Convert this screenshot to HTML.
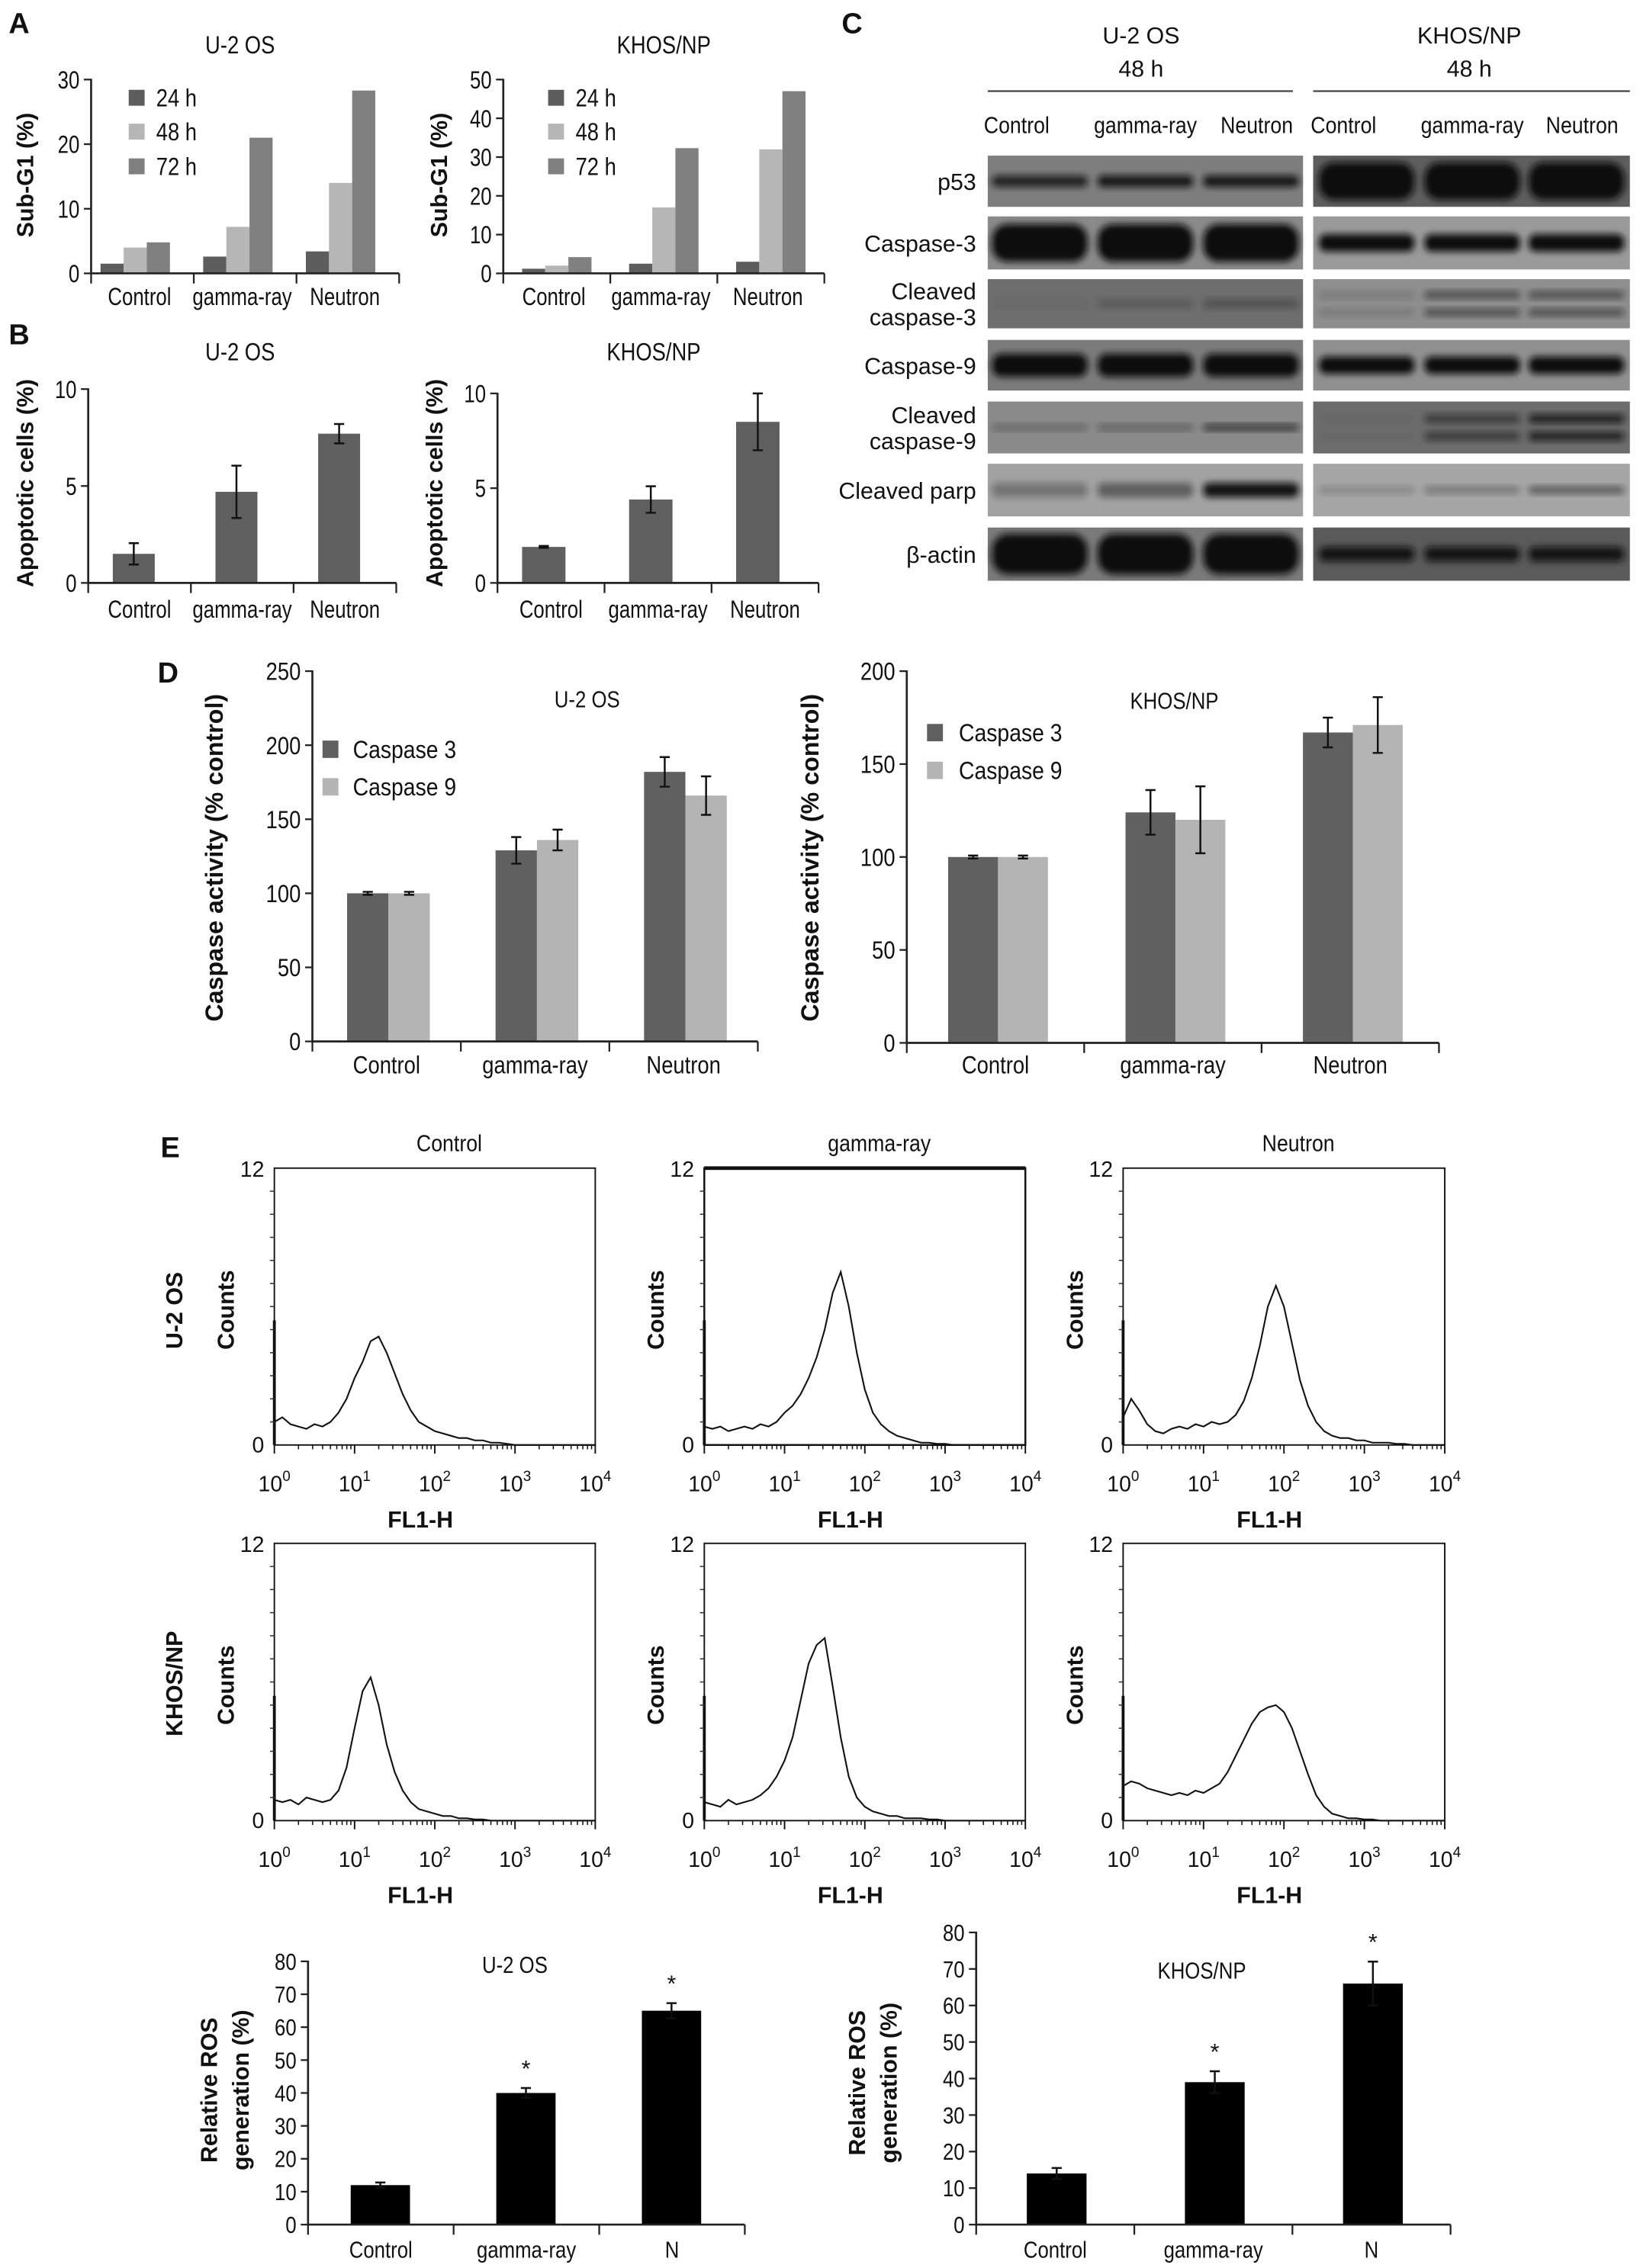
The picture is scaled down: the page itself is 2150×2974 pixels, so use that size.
<!DOCTYPE html>
<html><head><meta charset="utf-8"><style>
html,body{margin:0;padding:0;background:#fff;}
svg{display:block;font-family:"Liberation Sans",Arial,sans-serif;}
</style></head><body>
<svg id="fig" width="2150" height="2974" viewBox="0 0 1134 1568" preserveAspectRatio="none" xmlns="http://www.w3.org/2000/svg">
<defs><filter id="blur" x="-20%" y="-50%" width="140%" height="200%"><feGaussianBlur stdDeviation="2.2"/></filter></defs>
</svg>
<script>
// ---------- DATA ----------
const catsABD = ["Control","gamma-ray","Neutron"];
const catsROS = ["Control","gamma-ray","N"];
const subG1U2_24 = [1.5,2.6,3.4];
const subG1U2_48 = [4.0,7.2,14.0];
const subG1U2_72 = [4.8,21.0,28.3];
const subG1KH_24 = [1.2,2.5,3.0];
const subG1KH_48 = [2.0,17.0,32.0];
const subG1KH_72 = [4.2,32.3,47.0];
const apoU2 = [1.5,4.7,7.7];
const apoU2Err = [0.55,1.35,0.5];
const apoKH = [1.9,4.4,8.5];
const apoKHErr = [0.05,0.7,1.5];
const casp3U2 = [100,129,182];
const casp3U2Err = [1,9,10];
const casp9U2 = [100,136,166];
const casp9U2Err = [1,7,13];
const casp3KH = [100,124,167];
const casp3KHErr = [0.8,12,8];
const casp9KH = [100,120,171];
const casp9KHErr = [0.8,18,15];
const rosU2 = [12,40,65];
const rosU2Err = [0.8,1.5,2.3];
const rosKH = [14,39,66];
const rosKHErr = [1.5,3,6];
const ticksSubU2 = [0,10,20,30];
const ticksSubKH = [0,10,20,30,40,50];
const ticksApo = [0,5,10];
const ticksCaspU2 = [0,50,100,150,200,250];
const ticksCaspKH = [0,50,100,150,200];
const ticksROS = [0,10,20,30,40,50,60,70,80];
// histogram counts sampled every 0.1 decade from 10^0 to 10^4
const histStep = 0.1;
const histU2Ctrl = [1.0,1.2,0.9,0.8,0.7,0.9,0.8,1.0,1.4,2.0,2.9,3.6,4.5,4.7,4.0,3.1,2.2,1.5,1.0,0.8,0.6,0.5,0.4,0.3,0.3,0.2,0.2,0.1,0.1,0.05,0,0,0,0,0,0,0,0,0,0,0];
const histU2Gam = [0.8,0.7,0.8,0.6,0.7,0.8,0.7,0.9,0.8,1.0,1.4,1.7,2.2,2.9,3.8,5.0,6.6,7.5,6.0,4.0,2.4,1.4,0.9,0.6,0.4,0.3,0.2,0.1,0.1,0.05,0.05,0,0,0,0,0,0,0,0,0,0];
const histU2Neu = [1.2,2.0,1.5,0.9,0.6,0.5,0.7,0.8,0.7,0.9,0.8,1.0,0.9,1.0,1.3,1.9,2.9,4.3,6.0,6.9,6.0,4.4,2.8,1.7,1.0,0.6,0.4,0.3,0.3,0.2,0.2,0.1,0.1,0.1,0.05,0.05,0,0,0,0,0];
const histKHCtrl = [0.9,0.8,0.9,0.7,1.0,0.9,0.8,0.9,1.3,2.3,4.0,5.6,6.2,5.0,3.3,2.1,1.3,0.8,0.5,0.4,0.3,0.2,0.2,0.1,0.1,0.05,0.05,0,0,0,0,0,0,0,0,0,0,0,0,0,0];
const histKHGam = [0.8,0.7,0.6,0.9,0.7,0.8,0.9,1.1,1.4,1.9,2.6,3.6,5.2,6.8,7.6,7.9,5.8,3.6,1.9,1.0,0.6,0.4,0.3,0.2,0.2,0.1,0.1,0.1,0.05,0.05,0,0,0,0,0,0,0,0,0,0,0];
const histKHNeu = [1.5,1.7,1.6,1.4,1.3,1.2,1.1,1.2,1.1,1.3,1.2,1.4,1.6,2.1,2.8,3.5,4.2,4.7,4.9,5.0,4.7,4.0,3.0,2.0,1.1,0.6,0.3,0.2,0.1,0.1,0.05,0.05,0,0,0,0,0,0,0,0,0];
const histTickLabels = ["0","1","2","3","4"];

// ---------- HELPERS ----------
const NS = "http://www.w3.org/2000/svg";
const svg = document.getElementById("fig");
function mk(tag, attrs, parent) {
  const e = document.createElementNS(NS, tag);
  for (const k in attrs) e.setAttribute(k, attrs[k]);
  (parent || svg).appendChild(e);
  return e;
}
function txt(s, x, y, size, opts, parent) {
  opts = opts || {};
  const e = mk("text", {x: x, y: y, "font-size": size, "text-anchor": opts.anchor || "middle", "font-weight": opts.bold ? "bold" : "normal", fill: "#111"}, parent);
  if (opts.rot) e.setAttribute("transform", "rotate(-90 " + x + " " + y + ")");
  e.textContent = s;
  if (opts.cond) {
    const L = e.getComputedTextLength();
    if (L > 0) { e.setAttribute("textLength", (L * opts.cond).toFixed(1)); e.setAttribute("lengthAdjust", "spacingAndGlyphs"); }
  }
  return e;
}

function barChart(p) {
  const g = mk("g", {});
  
  
  const ys = v => p.yB - (v / p.max) * (p.yB - p.yT);
  const gw = (p.x1 - p.x0) / p.cats.length;
  p.series.forEach((vals, s) => {
    vals.forEach((v, i) => {
      const x = p.x0 + i * gw + p.off + s * p.bw;
      const r = mk("rect", {x: x, y: ys(v), width: p.bw, height: p.yB - ys(v), fill: p.colors[s]}, g);
      
      
      if (p.errs && p.errs[s]) {
        const e = p.errs[s][i], cx = x + p.bw / 2;
        const eb = mk("path", {d: "M" + cx + " " + ys(v + e) + "V" + ys(v - e) + "M" + (cx - 3.5) + " " + ys(v + e) + "h7M" + (cx - 3.5) + " " + ys(v - e) + "h7", stroke: "#111", "stroke-width": 1.3, fill: "none"}, g);
        
        
        if (p.stars && p.stars[i]) {
          const st = txt("*", cx, ys(v + e) - 8, 16, {}, g);
          
          
        }
      }
    });
  });
  const ax = mk("path", {d: "M" + p.x0 + " " + (p.yT - 0.5) + "V" + p.yB + "H" + p.x1, stroke: "#222", "stroke-width": 1.4, fill: "none"}, g);
  
  
  p.ticks.forEach(t => {
    mk("line", {x1: p.x0 - 5, x2: p.x0, y1: ys(t), y2: ys(t), stroke: "#222", "stroke-width": 1.2}, g);
    const tl = txt(String(t), p.x0 - 8, ys(t) + p.fs * 0.36, p.fs, {anchor: "end", cond: p.cond}, g);
    
    
  });
  for (let i = 0; i <= p.cats.length; i++) {
    const x = p.x0 + i * gw;
    mk("line", {x1: x, x2: x, y1: p.yB, y2: p.yB + 7, stroke: "#222", "stroke-width": 1.2}, g);
  }
  p.cats.forEach((c, i) => {
    const cl = txt(c, p.x0 + (i + 0.5) * gw + (p.catShift || 0), p.catY, p.fs, {cond: p.cond}, g);
    
    
  });
  return g;
}

// ---------- PANEL LETTERS ----------
[["A",6,23],["B",6,238],["C",582,23],["D",109,472],["E",111,800]].forEach(a => {
  const t = txt(a[0], a[1], a[2], 20, {anchor: "start", bold: true});
  
  
});

// ---------- PANEL A ----------
const colA = ["#5d5d5d", "#b6b6b6", "#808080"];
barChart({name:"subg1-u2os-chart", x0:63, x1:276, yT:55, yB:189, max:30, ticks:ticksSubU2, cats:catsABD, series:[subG1U2_24,subG1U2_48,subG1U2_72], seriesNames:["24h","48h","72h"], colors:colA, bw:16, off:6.5, fs:17, catY:211, catShift:-2, cond:0.8});
barChart({name:"subg1-khos-chart", x0:348, x1:570, yT:55, yB:189, max:50, ticks:ticksSubKH, cats:catsABD, series:[subG1KH_24,subG1KH_48,subG1KH_72], seriesNames:["24h","48h","72h"], colors:colA, bw:16, off:13, fs:17, catY:211, catShift:-2, cond:0.8});
[[89,108],[379,398]].forEach(L => {
  ["24 h","48 h","72 h"].forEach((s, i) => {
    const cy = [67.6, 91, 115][i];
    const sq = mk("rect", {x: L[0], y: cy - 5.5, width: 11, height: 11, fill: colA[i]});
    
    
    const lt = txt(s, L[1], cy + 6, 17, {anchor: "start", cond: 0.85});
    
    
  });
});
let t;
t = txt("U-2 OS", 166, 37, 17, {cond:0.85});  
t = txt("KHOS/NP", 459, 37, 17, {cond:0.85});  
t = txt("Sub-G1 (%)", 23, 121, 16, {bold:true, rot:true});  
t = txt("Sub-G1 (%)", 309, 121, 16, {bold:true, rot:true});  

// ---------- PANEL B ----------
barChart({name:"apoptosis-u2os-chart", x0:61, x1:274, yT:269, yB:403, max:10, ticks:ticksApo, cats:catsABD, series:[apoU2], errs:[apoU2Err], seriesNames:["apoptotic"], colors:["#5f5f5f"], bw:29, off:17, fs:17, catY:427, cond:0.8});
barChart({name:"apoptosis-khos-chart", x0:344, x1:566, yT:272, yB:403, max:10, ticks:ticksApo, cats:catsABD, series:[apoKH], errs:[apoKHErr], seriesNames:["apoptotic"], colors:["#5f5f5f"], bw:30, off:17, fs:17, catY:427, cond:0.8});
t = txt("U-2 OS", 166, 249, 17, {cond:0.85});  
t = txt("KHOS/NP", 452, 249, 17, {cond:0.85});  
t = txt("Apoptotic cells (%)", 23, 334, 16, {bold:true, rot:true});  
t = txt("Apoptotic cells (%)", 306, 334, 16, {bold:true, rot:true});  

// ---------- PANEL C (western blots) ----------
const blotRows = ["p53","Caspase-3","Cleaved|caspase-3","Caspase-9","Cleaved|caspase-9","Cleaved parp","β-actin"];
const blotY = [[107.6,143],[149.6,186.3],[193,227],[235,270],[277.6,313.5],[320.6,357],[364.7,401.5]];
const blotBgL = ["#7e7e7e","#8a8a8a","#6e6e6e","#7b7b7b","#8a8a8a","#a2a2a2","#7a7a7a"];
const blotBgR = ["#5e5e5e","#9a9a9a","#8e8e8e","#909090","#6c6c6c","#a6a6a6","#5a5a5a"];
const bandHL = [8,26,6,16,4,10,28];
const bandHR = [26,12,5,12,6,5,10];
const bandIL = [[0.8,0.9,0.9],[1,1,1],[0.05,0.2,0.3],[1,1,1],[0.3,0.35,0.7],[0.3,0.45,0.95],[1,1,1]];
const bandIR = [[1,1,1],[1,1,1],[0.15,0.5,0.5],[1,1,1],[0.05,0.5,0.8],[0.2,0.3,0.5],[0.9,0.9,0.9]];
const laneL = [719,792,865], laneR = [945,1018,1090];
blotRows.forEach((lab, r) => {
  const [y0, y1] = blotY[r];
  [[683,901,blotBgL,bandHL,bandIL,laneL,"left"],[908,1127,blotBgR,bandHR,bandIR,laneR,"right"]].forEach(B => {
    const bg = mk("rect", {x: B[0], y: y0, width: B[1] - B[0], height: y1 - y0, fill: B[2][r]});
    
    
    const cy = (y0 + y1) / 2;
    B[5].forEach((lx, i) => {
      const inten = B[4][r][i];
      const isDouble = (r === 2 || r === 4) && B[6] === "right";
      const offs = isDouble ? [-6, 6] : [0];
      offs.forEach(o => {
        const band = mk("rect", {x: lx - 33, y: cy + o - B[3][r] / 2, width: 66, height: B[3][r], rx: B[3][r] / 2.5, fill: "#111", opacity: inten, filter: "url(#blur)"});
        
        
      });
    });
  });
  const parts = lab.split("|");
  const cy = (y0 + y1) / 2;
  parts.forEach((pt, k) => {
    const yy = cy + 6 + (parts.length === 2 ? (k === 0 ? -9 : 9) : 0);
    const rl = txt(pt, 675, yy, 16, {anchor: "end"});
    
    
  });
});
[["U-2 OS",789,683,894,laneL],["KHOS/NP",1016,908,1127,laneR]].forEach(H => {
  let h = txt(H[0], H[1], 30, 16);  
  h = txt("48 h", H[1], 53, 16);  
  const ln = mk("line", {x1: H[2], x2: H[3], y1: 63, y2: 63, stroke: "#444", "stroke-width": 1.2});
  
  
  catsABD.forEach((c, i) => {
    const l = txt(c, H[4][i] - (i === 0 ? 16 : 0) + (i === 2 ? 4 : 0), 92, 16, {cond: 0.88});
    
    
  });
});

// ---------- PANEL D ----------
const colD = ["#606060", "#b4b4b4"];
barChart({name:"caspase-u2os-chart", x0:216, x1:524, yT:464, yB:720, max:250, ticks:ticksCaspU2, cats:catsABD, series:[casp3U2,casp9U2], errs:[casp3U2Err,casp9U2Err], seriesNames:["caspase3","caspase9"], colors:colD, bw:28.6, off:24, fs:17, catY:742, cond:0.85});
barChart({name:"caspase-khos-chart", x0:627, x1:995, yT:464, yB:721, max:200, ticks:ticksCaspKH, cats:catsABD, series:[casp3KH,casp9KH], errs:[casp3KHErr,casp9KHErr], seriesNames:["caspase3","caspase9"], colors:colD, bw:34.5, off:28.6, fs:17, catY:742, cond:0.85});
[[223,244,518,544],[641,663,506.5,532.6]].forEach(L => {
  ["Caspase 3","Caspase 9"].forEach((s, i) => {
    const cy = L[2 + i];
    const sq = mk("rect", {x: L[0], y: cy - 6, width: 11, height: 12, fill: colD[i]});
    
    
    const lt = txt(s, L[1], cy + 6, 17, {anchor: "start", cond: 0.88});
    
    
  });
});
t = txt("U-2 OS", 406, 489, 16, {cond:0.85});  
t = txt("KHOS/NP", 812, 490, 16, {cond:0.85});  
t = txt("Caspase activity (% control)", 154, 593, 17, {bold:true, rot:true});  
t = txt("Caspase activity (% control)", 566, 593, 17, {bold:true, rot:true});  

// ---------- PANEL E histograms ----------
const histCols = [[189.7,411.6],[487,709],[776.6,999]];
const histRows = [[807.6,999],[1067,1258.7]];
const histData = [[histU2Ctrl,histU2Gam,histU2Neu],[histKHCtrl,histKHGam,histKHNeu]];
const colTitles = ["Control","gamma-ray","Neutron"];
histRows.forEach((R, ri) => {
  histCols.forEach((C, ci) => {
    const g = mk("g", {});
    
    
    const [x0, x1] = C, [yT, yB] = R;
    const xs = d => x0 + d / 4 * (x1 - x0);
    const ys = c => yB - c / 12 * (yB - yT);
    mk("rect", {x: x0, y: yT, width: x1 - x0, height: yB - yT, fill: "none", stroke: "#111", "stroke-width": (ri === 0 && ci === 1) ? 1.3 : 1}, g);
    if (ri === 0 && ci === 1) mk("line", {x1: x0, x2: x1, y1: yT, y2: yT, stroke: "#111", "stroke-width": 2.5}, g);
    mk("line", {x1: x0, x2: x0, y1: yB - 0.45 * (yB - yT), y2: yB, stroke: "#111", "stroke-width": 2}, g);
    for (let k = 1; k < 12; k++) mk("line", {x1: x0 - 3, x2: x0 + 0, y1: ys(k), y2: ys(k), stroke: "#333", "stroke-width": 0.8}, g);
    for (let d = 0; d < 4; d++) {
      for (let m = 2; m <= 9; m++) {
        const xx = xs(d + Math.log10(m));
        mk("line", {x1: xx, x2: xx, y1: yB, y2: yB + 3, stroke: "#111", "stroke-width": 0.8}, g);
      }
    }
    histTickLabels.forEach((lab, d) => {
      mk("line", {x1: xs(d), x2: xs(d), y1: yB, y2: yB + 6, stroke: "#111", "stroke-width": 1}, g);
      const tl = mk("text", {x: xs(d), y: yB + 32, "font-size": 15, "text-anchor": "middle", fill: "#111"}, g);
      
      
      tl.textContent = "10";
      const sp = mk("tspan", {dy: -7, "font-size": 10}, tl);
      sp.textContent = lab;
    });
    let l = txt("12", x0 - 7, yT + 6, 15, {anchor: "end"}, g);  
    l = txt("0", x0 - 7, yB + 5, 15, {anchor: "end"}, g);  
    l = txt("FL1-H", (x0 + x1) / 2 - 10, yB + 57, 16, {bold: true}, g);  
    l = txt("Counts", x0 - 28, yT + 98, 16, {bold: true, rot: true}, g);  
    const arr = histData[ri][ci];
    const d = arr.map((c, i) => (i ? "L" : "M") + xs(i * histStep).toFixed(2) + " " + ys(c).toFixed(2)).join("");
    const path = mk("path", {d: d, fill: "none", stroke: "#111", "stroke-width": 1.1}, g);
    
    
    if (ri === 0) {
      const ct = txt(colTitles[ci], (x0 + x1) / 2 + 10, 796, 16, {cond: 0.88}, g);
      
      
    }
  });
});
t = txt("U-2 OS", 126, 906, 16, {bold:true, rot:true});  
t = txt("KHOS/NP", 126, 1164, 16, {bold:true, rot:true});  

// ---------- ROS bar charts ----------
barChart({name:"ros-u2os-chart", x0:213, x1:515, yT:1356, yB:1538, max:80, ticks:ticksROS, cats:catsROS, series:[rosU2], errs:[rosU2Err], stars:[false,true,true], seriesNames:["ros"], colors:["#000"], bw:41, off:29.5, fs:16, catY:1561, cond:0.85});
barChart({name:"ros-khos-chart", x0:675, x1:1003, yT:1336, yB:1538, max:80, ticks:ticksROS, cats:catsROS, series:[rosKH], errs:[rosKHErr], stars:[false,true,true], seriesNames:["ros"], colors:["#000"], bw:41.3, off:35, fs:16, catY:1561, cond:0.85});
t = txt("U-2 OS", 356, 1364, 16, {cond:0.85});  
t = txt("KHOS/NP", 831, 1368, 16, {cond:0.85});  
t = txt("Relative ROS", 150, 1445, 16, {bold:true, rot:true});  
t = txt("generation (%)", 172, 1445, 16, {bold:true, rot:true});  
t = txt("Relative ROS", 598, 1440, 16, {bold:true, rot:true});  
t = txt("generation (%)", 620, 1440, 16, {bold:true, rot:true});  
</script>
</body></html>
